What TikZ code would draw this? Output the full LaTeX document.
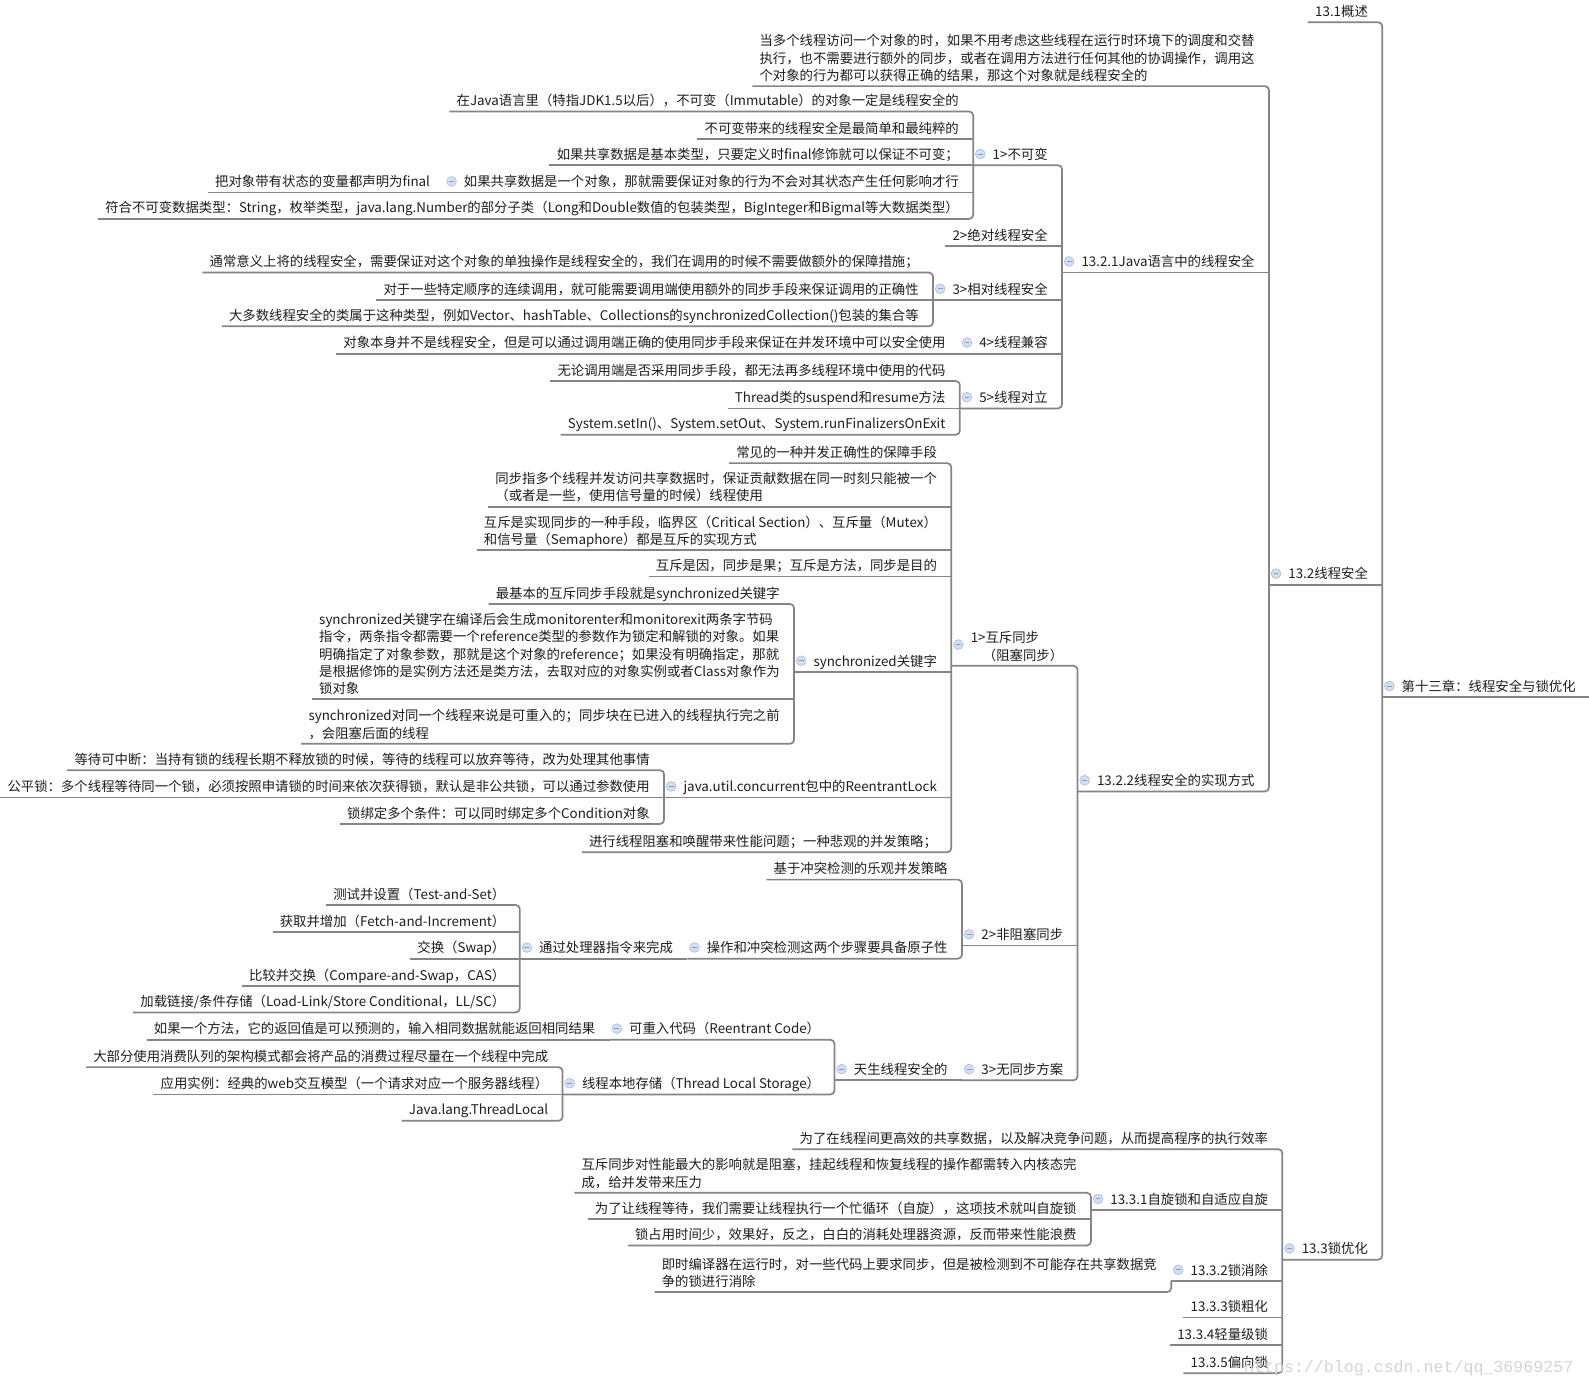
\documentclass[tikz,border=0pt]{standalone}
\usepackage{fontspec}
\setmainfont{Noto Sans CJK SC}
\newfontfamily\wmfont{Liberation Mono}
\usepackage{tikz}
\definecolor{linkgray}{HTML}{858585}
\definecolor{knobfill}{HTML}{D3DFF2}
\definecolor{knobline}{HTML}{9DB5DD}
\definecolor{knobdash}{HTML}{7F9CCC}
\definecolor{inkcol}{HTML}{1E1E1E}
\definecolor{wmgray}{HTML}{D5D5D5}

\begin{document}
\begin{tikzpicture}[x=1pt,y=-1pt,font=\fontsize{13.2}{17}\selectfont]
\tikzset{
  topic/.style={anchor=south east,xshift=-7pt,inner xsep=7pt,inner ysep=2.5pt,align=left,text=inkcol,
    execute at end node={\rule[-3pt]{0pt}{3pt}}},
  hub/.style={topic,execute at begin node={\hspace*{12pt}}},
  link/.style={linkgray,line width=1.7pt,rounded corners=4pt}
}
% helpers: vertical fork from first to last child, plain underline of a middle child, fold mark
\newcommand{\fork}[3]{% args: parent, first child, last child
  \draw[link] (#2.south west) -- (#2.south east -| #1.south west) -- (#3.south east -| #1.south west) -- (#3.south west);
}
\newcommand{\twig}[2]{% args: parent, child
  \draw[link] (#2.south west) -- (#2.south east -| #1.south west);
}
\newcommand{\knob}[2][11]{% args: rise, node
  \filldraw[fill=knobfill,draw=knobline,line width=0.5pt] ([shift={(7,-#1)}]#2.south west) circle (4.8pt);
  \draw[knobdash,line width=1pt] ([shift={(4.6,-#1)}]#2.south west) -- ++(4.8,0);
}

\useasboundingbox (0,0) rectangle (1568,1367);
\fill[white] (0,0) rectangle (1568,1367);

% ------ root and chapters ------
\node[hub] (root) at (1569,688) {第十三章：线程安全与锁优化};
\coordinate (rim) at (1568,688);
\node[topic] (ov) at (root.south west |- 0,22) {13.1概述};
\node[hub] (ts) at (root.south west |- 0,577) {13.2线程安全};
\node[hub] (lo) at (root.south west |- 0,1243) {13.3锁优化};

% ------ 13.2 ------
\node[topic] (safe) at (ts.south west |- 0,85) {当多个线程访问一个对象的时，如果不用考虑这些线程在运行时环境下的调度和交替\\执行，也不需要进行额外的同步，或者在调用方法进行任何其他的协调操作，调用这\\个对象的行为都可以获得正确的结果，那这个对象就是线程安全的};
\node[hub] (jv) at (ts.south west |- 0,269) {13.2.1Java语言中的线程安全};
\node[hub] (im) at (ts.south west |- 0,781) {13.2.2线程安全的实现方式};

% 13.2.1
\node[hub] (t1) at (jv.south west |- 0,163) {1>不可变};
\node[topic] (t2) at (jv.south west |- 0,243) {2>绝对线程安全};
\node[hub] (t3) at (jv.south west |- 0,296) {3>相对线程安全};
\node[hub] (t4) at (jv.south west |- 0,349) {4>线程兼容};
\node[hub] (t5) at (jv.south west |- 0,403) {5>线程对立};

\node[topic] (a1) at (t1.south west |- 0,110) {在Java语言里（特指JDK1.5以后），不可变（Immutable）的对象一定是线程安全的};
\node[topic] (a2) at (t1.south west |- 0,137) {不可变带来的线程安全是最简单和最纯粹的};
\node[topic] (a3) at (t1.south west |- 0,163) {如果共享数据是基本类型，只要定义时final修饰就可以保证不可变；};
\node[hub] (a4) at (t1.south west |- 0,190) {如果共享数据是一个对象，那就需要保证对象的行为不会对其状态产生任何影响才行};
\node[topic] (a4x) at (a4.south west |- 0,190) {把对象带有状态的变量都声明为final};
\node[topic] (a5) at (t1.south west |- 0,216) {符合不可变数据类型：String，枚举类型，java.lang.Number的部分子类（Long和Double数值的包装类型，BigInteger和Bigmal等大数据类型）};

\node[topic] (b1) at (t3.south west |- 0,269) {通常意义上将的线程安全，需要保证对这个对象的单独操作是线程安全的，我们在调用的时候不需要做额外的保障措施；};
\node[topic] (b2) at (t3.south west |- 0,296) {对于一些特定顺序的连续调用，就可能需要调用端使用额外的同步手段来保证调用的正确性};
\node[topic] (b3) at (t3.south west |- 0,322) {大多数线程安全的类属于这种类型，例如Vector、hashTable、Collections的synchronizedCollection()包装的集合等};

\node[topic] (c1) at (t4.south west |- 0,349) {对象本身并不是线程安全，但是可以通过调用端正确的使用同步手段来保证在并发环境中可以安全使用};

\node[topic] (d1) at (t5.south west |- 0,376) {无论调用端是否采用同步手段，都无法再多线程环境中使用的代码};
\node[topic] (d2) at (t5.south west |- 0,403) {Thread类的suspend和resume方法};
\node[topic] (d3) at (t5.south west |- 0,429) {System.setIn()、System.setOut、System.runFinalizersOnExit};

% 13.2.2
\node[hub] (m1) at (im.south west |- 0,657) {1>互斥同步\\\hspace*{12pt}（阻塞同步）};
\node[hub] (m2) at (im.south west |- 0,933) {2>非阻塞同步};
\node[hub] (m3) at (im.south west |- 0,1066) {3>无同步方案};

\node[topic] (e1) at (m1.south west |- 0,457) {常见的一种并发正确性的保障手段};
\node[topic] (e2) at (m1.south west |- 0,500) {同步指多个线程并发访问共享数据时，保证贡献数据在同一时刻只能被一个\\（或者是一些，使用信号量的时候）线程使用};
\node[topic] (e3) at (m1.south west |- 0,543) {互斥是实现同步的一种手段，临界区（Critical Section）、互斥量（Mutex）\\和信号量（Semaphore）都是互斥的实现方式};
\node[topic] (e4) at (m1.south west |- 0,569) {互斥是因，同步是果；互斥是方法，同步是目的};
\node[hub] (sy) at (m1.south west |- 0,663) {synchronized关键字};
\node[hub] (rl) at (m1.south west |- 0,787) {java.util.concurrent包中的ReentrantLock};
\node[topic] (e5) at (m1.south west |- 0,841) {进行线程阻塞和唤醒带来性能问题；一种悲观的并发策略；};

\node[topic] (s1) at (sy.south west |- 0,596) {最基本的互斥同步手段就是synchronized关键字};
\node[topic] (s2) at (sy.south west |- 0,690) {synchronized关键字在编译后会生成monitorenter和monitorexit两条字节码\\指令，两条指令都需要一个reference类型的参数作为锁定和解锁的对象。如果\\明确指定了对象参数，那就是这个对象的reference；如果没有明确指定，那就\\是根据修饰的是实例方法还是类方法，去取对应的对象实例或者Class对象作为\\锁对象};
\node[topic] (s3) at (sy.south west |- 0,734) {synchronized对同一个线程来说是可重入的；同步块在已进入的线程执行完之前\\，会阻塞后面的线程};

\node[topic] (r1) at (rl.south west |- 0,760) {等待可中断：当持有锁的线程长期不释放锁的时候，等待的线程可以放弃等待，改为处理其他事情};
\node[topic] (r2) at (rl.south west |- 0,787) {公平锁：多个线程等待同一个锁，必须按照申请锁的时间来依次获得锁，默认是非公共锁，可以通过参数使用};
\node[topic] (r3) at (rl.south west |- 0,813) {锁绑定多个条件：可以同时绑定多个Condition对象};

\node[topic] (n1) at (m2.south west |- 0,868) {基于冲突检测的乐观并发策略};
\node[hub] (atom) at (m2.south west |- 0,946) {操作和冲突检测这两个步骤要具备原子性};
\node[hub] (cpu) at (atom.south west |- 0,946) {通过处理器指令来完成};
\node[topic] (p1) at (cpu.south west |- 0,893) {测试并设置（Test-and-Set）};
\node[topic] (p2) at (cpu.south west |- 0,920) {获取并增加（Fetch-and-Increment）};
\node[topic] (p3) at (cpu.south west |- 0,946) {交换（Swap）};
\node[topic] (p4) at (cpu.south west |- 0,973) {比较并交换（Compare-and-Swap，CAS）};
\node[topic] (p5) at (cpu.south west |- 0,999) {加载链接/条件存储（Load-Link/Store Conditional，LL/SC）};

\node[hub] (nat) at (m3.south west |- 0,1066) {天生线程安全的};
\node[hub] (rc) at (nat.south west |- 0,1026) {可重入代码（Reentrant Code）};
\node[topic] (rc1) at (rc.south west |- 0,1026) {如果一个方法，它的返回值是可以预测的，输入相同数据就能返回相同结果};
\node[hub] (tls) at (nat.south west |- 0,1080) {线程本地存储（Thread Local Storage）};
\node[topic] (l1) at (tls.south west |- 0,1053) {大部分使用消费队列的架构模式都会将产品的消费过程尽量在一个线程中完成};
\node[topic] (l2) at (tls.south west |- 0,1080) {应用实例：经典的web交互模型（一个请求对应一个服务器线程）};
\node[topic] (l3) at (tls.south west |- 0,1106) {Java.lang.ThreadLocal};

% ------ 13.3 ------
\node[topic] (o0) at (lo.south west |- 0,1134) {为了在线程间更高效的共享数据，以及解决竞争问题，从而提高程序的执行效率};
\node[hub] (sp) at (lo.south west |- 0,1194) {13.3.1自旋锁和自适应自旋};
\node[hub] (el) at (lo.south west |- 0,1264) {13.3.2锁消除};
\node[topic] (co) at (lo.south west |- 0,1300) {13.3.3锁粗化};
\node[topic] (lw) at (lo.south west |- 0,1327) {13.3.4轻量级锁};
\node[topic] (bi) at (lo.south west |- 0,1355) {13.3.5偏向锁};

\node[topic] (q1) at (sp.south west |- 0,1177) {互斥同步对性能最大的影响就是阻塞，挂起线程和恢复线程的操作都需转入内核态完\\成，给并发带来压力};
\node[topic] (q2) at (sp.south west |- 0,1203) {为了让线程等待，我们需要让线程执行一个忙循环（自旋），这项技术就叫自旋锁};
\node[topic] (q3) at (sp.south west |- 0,1229) {锁占用时间少，效果好，反之，白白的消耗处理器资源，反而带来性能浪费};
\node[topic] (el1) at (el.south west |- 0,1275) {即时编译器在运行时，对一些代码上要求同步，但是被检测到不可能存在共享数据竞\\争的锁进行消除};

% ------ connectors ------
\draw[link] (root.south west) -- (rim);
\fork{root}{ov}{lo}
\twig{root}{ts}
\fork{ts}{safe}{im}
\twig{ts}{jv}
\fork{jv}{t1}{t5}
\foreach \c in {t2,t3,t4}{\twig{jv}{\c}}
\fork{t1}{a1}{a5}
\foreach \c in {a2,a3,a4}{\twig{t1}{\c}}
\twig{a4}{a4x}
\fork{t3}{b1}{b3}
\twig{t3}{b2}
\twig{t4}{c1}
\fork{t5}{d1}{d3}
\twig{t5}{d2}
\fork{im}{m1}{m3}
\twig{im}{m2}
\fork{m1}{e1}{e5}
\foreach \c in {e2,e3,e4,sy,rl}{\twig{m1}{\c}}
\fork{sy}{s1}{s3}
\twig{sy}{s2}
\fork{rl}{r1}{r3}
\twig{rl}{r2}
\fork{m2}{n1}{atom}
\twig{atom}{cpu}
\fork{cpu}{p1}{p5}
\foreach \c in {p2,p3,p4}{\twig{cpu}{\c}}
\twig{m3}{nat}
\fork{nat}{rc}{tls}
\twig{rc}{rc1}
\fork{tls}{l1}{l3}
\twig{tls}{l2}
\fork{lo}{o0}{bi}
\foreach \c in {sp,el,co,lw}{\twig{lo}{\c}}
\fork{sp}{q1}{q3}
\twig{sp}{q2}
\draw[link] (el1.south west) -- (el1.south east -| el.south west) -- (el.south west);

% fold marks
\foreach \n in {root,ts,lo,jv,im,t1,t3,t4,t5,a4,sy,rl,m2,m3,atom,cpu,nat,rc,tls,sp,el}{\knob{\n}}
\knob[21]{m1}

% watermark
\node[text=wmgray,font=\wmfont\fontsize{16.4}{18}\selectfont,anchor=base east] (wm) at (1556,1354) {https://blog.csdn.net/qq\_36969257};
\end{tikzpicture}
\end{document}
